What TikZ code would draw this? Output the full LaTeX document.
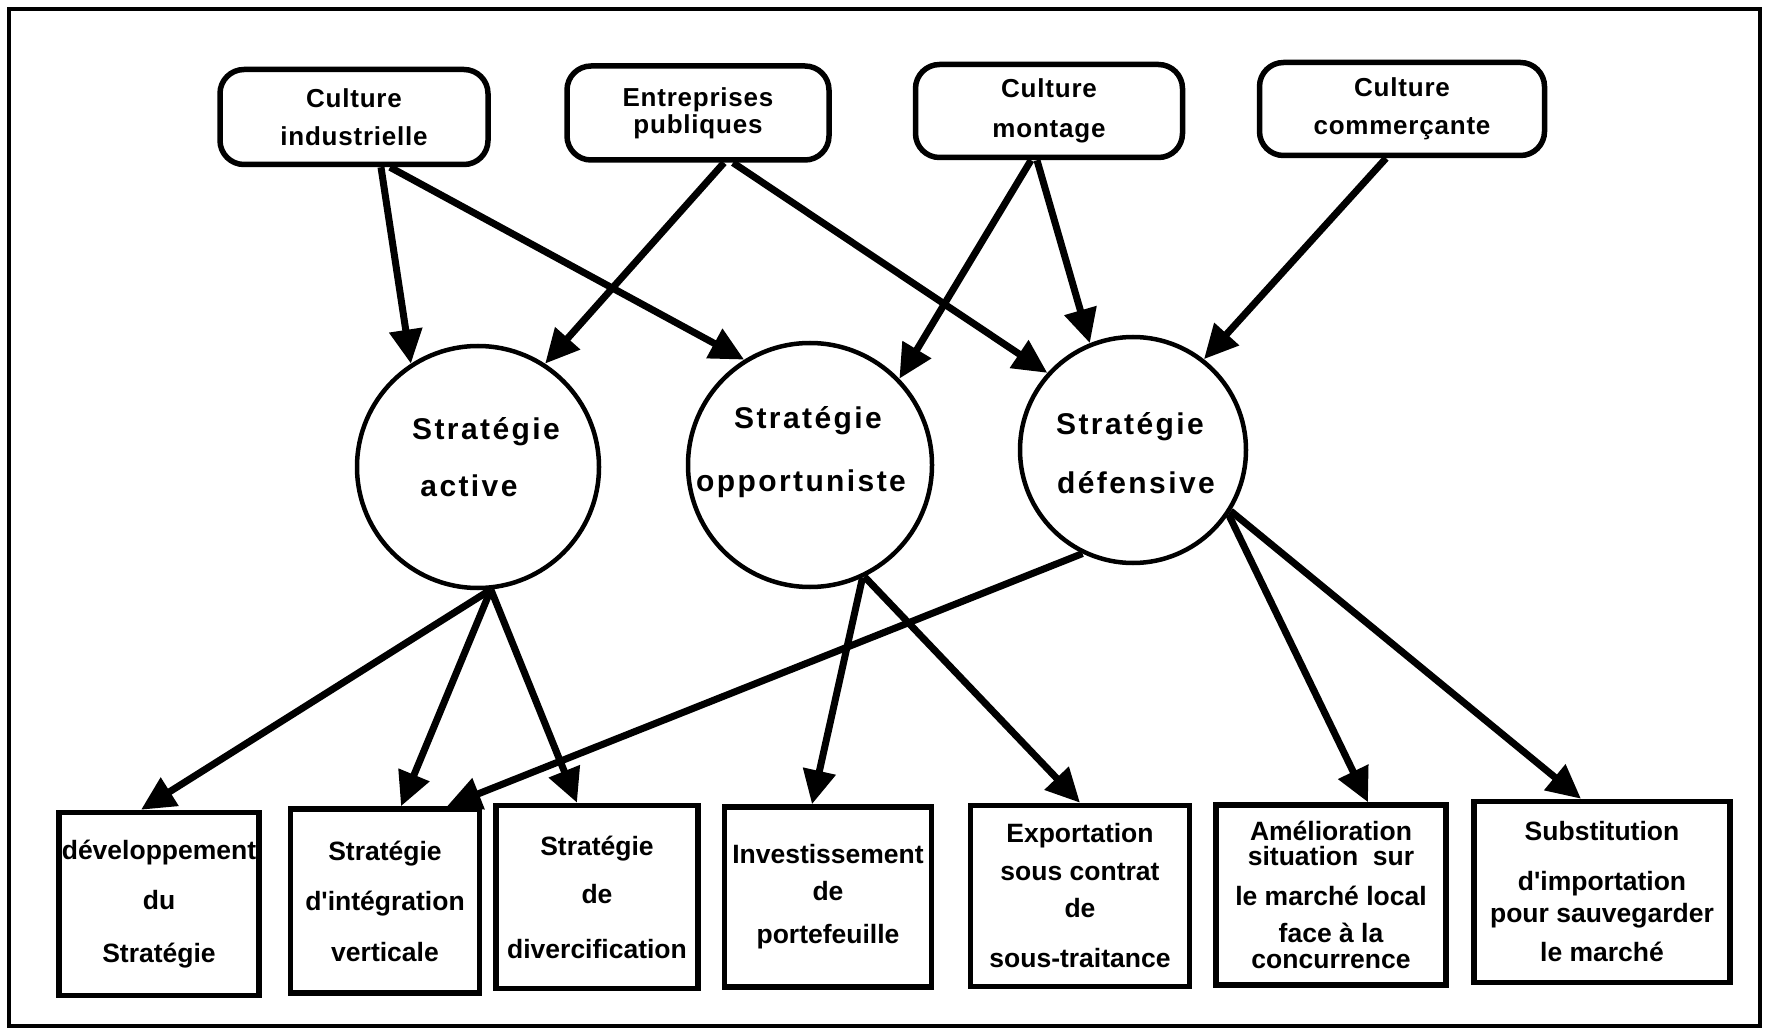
\documentclass[tikz,border=0pt]{standalone}
\usepackage{fontspec}
\setmainfont[Ligatures=TeXOff]{Liberation Sans}
\newfontfamily\circfont[LetterSpace=8]{Liberation Sans}
\newfontfamily\topfont[LetterSpace=3]{Liberation Sans}
\usetikzlibrary{arrows.meta}
\tikzset{
 topbox/.style={draw, line width=5.5pt, rounded corners=24pt, align=center, inner sep=0pt, font=\topfont\bfseries\fontsize{26}{30}\selectfont},
 botbox/.style={draw, line width=5.5pt, align=center, inner sep=0pt, font=\bfseries\fontsize{26.5}{30}\selectfont},
 strat/.style={draw, circle, line width=4.5pt, inner sep=0pt},
 stext/.style={font=\circfont\bfseries\fontsize{30}{36}\selectfont, inner sep=0pt},
 arr/.style={line width=7pt, -{Triangle[length=34pt,width=32pt]}},
}
\begin{document}
\begin{tikzpicture}[x=1pt,y=-1pt]
\useasboundingbox (0,0) rectangle (1773,1032);
\draw[line width=4pt] (9,9) rectangle (1760,1026);
% top boxes
\node[topbox, minimum width=268pt, minimum height=95pt] (ci) at (354,117) {Culture\\[8pt]industrielle};
\node[topbox, minimum width=262pt, minimum height=94pt] (ep) at (698,113) {Entreprises\\[-3pt]publiques};
\node[topbox, minimum width=267pt, minimum height=93pt] (cm) at (1049,111) {Culture\\[10pt]montage};
\node[topbox, minimum width=285pt, minimum height=93pt] (cc) at (1402,109) {Culture\\[8pt]commerçante};
% circles
\node[strat, minimum size=242pt] (c1) at (478,467) {};
\node[strat, minimum size=244pt] (c2) at (810,465) {};
\node[strat, minimum size=226pt] (c3) at (1133,450) {};
\node[stext] (c1a) at (486,432) {Stratégie};
\node[stext] (c1b) at (469,486) {active};
\node[stext] (c2a) at (808,421) {Stratégie};
\node[stext] (c2b) at (801,484) {opportuniste};
\node[stext] (c3a) at (1130,427) {Stratégie};
\node[stext] (c3b) at (1136,483) {défensive};
% bottom boxes
\node[botbox, minimum width=200pt, minimum height=183pt] (b1) at (159,904) {développement\\[20pt]du\\[23pt]Stratégie};
\node[botbox, minimum width=189pt, minimum height=184pt] (b2) at (385,901) {Stratégie\\[20pt]d'intégration\\[21pt]verticale};
\node[botbox, minimum width=202pt, minimum height=183pt] (b3) at (597,897) {Stratégie\\[18pt]de\\[25pt]divercification};
\node[botbox, minimum width=207pt, minimum height=180pt] (b4) at (828,897) {Investissement\\[7pt]de\\[13pt]portefeuille};
\node[botbox, minimum width=219pt, minimum height=181pt] (b5) at (1080,896) {Exportation\\[8pt]sous contrat\\[7pt]de\\[20pt]sous-traitance};
\node[botbox, minimum width=230pt, minimum height=180pt] (b6) at (1331,895) {Amélioration\\[-5pt]situation\ \ sur\\[10pt]le marché local\\[7pt]face à la\\[-4pt]concurrence};
\node[botbox, minimum width=256pt, minimum height=181pt] (b7) at (1602,892) {Substitution\\[20pt]d'importation\\[2pt]pour sauvegarder\\[9pt]le marché};
% arrows from cultures
\draw[arr] ([xshift=27pt]ci.south) -- (c1.123);
\draw[arr] ([xshift=36pt]ci.south) -- (c2.122);
\draw[arr] ([xshift=26pt]ep.south) -- (c1.57);
\draw[arr] ([xshift=35pt]ep.south) -- (c3.138);
\draw[arr] ([xshift=-18pt]cm.south) -- (c2.44);
\draw[arr] ([xshift=-12pt]cm.south) -- (c3.112);
\draw[arr] ([xshift=-16pt]cc.south) -- (c3.52);
% arrows to outcomes
\draw[arr] (c1.-84) -- ([xshift=-18pt]b1.north);
\draw[arr] (c1.-84) -- ([xshift=16pt]b2.north);
\draw[arr] (c1.-84) -- ([xshift=-20pt]b3.north);
\draw[arr] (c3.-116) -- ([xshift=62pt]b2.north);
\draw[arr] (c2.-65) -- ([xshift=-16pt]b4.north);
\draw[arr] (c2.-64) -- (b5.north);
\draw[arr] (c3.-34) -- ([xshift=37pt]b6.north);
\draw[arr] (c3.-32) -- ([xshift=-21pt]b7.north);
\end{tikzpicture}
\end{document}
